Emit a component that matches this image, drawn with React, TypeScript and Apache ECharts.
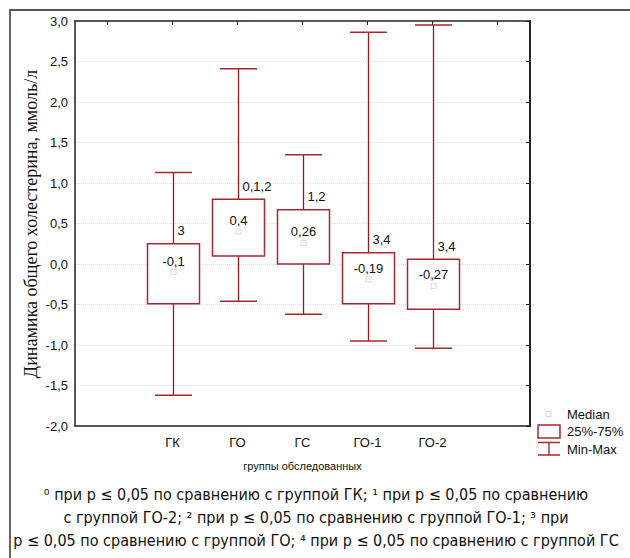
import React, { useEffect, useRef } from "react";
import * as echarts from "echarts";

const categories = ["", "ГК", "ГО", "ГС", "ГО-1", "ГО-2", ""];
const groupIndex = [1, 2, 3, 4, 5];
const minVals = [-1.62, -0.46, -0.62, -0.95, -1.04];
const q1Vals = [-0.49, 0.1, 0.0, -0.49, -0.56];
const medians = [-0.1, 0.4, 0.26, -0.19, -0.27];
const q3Vals = [0.25, 0.8, 0.67, 0.14, 0.06];
const maxVals = [1.13, 2.41, 1.35, 2.86, 2.95];
const sigLabels = ["3", "0,1,2", "1,2", "3,4", "3,4"];

const yTitle = "Динамика общего холестерина, ммоль/л";
const xTitle = "группы обследованных";
const footLines = [
  "⁰ при р ≤ 0,05 по сравнению с группой ГК; ¹ при р ≤ 0,05 по сравнению",
  "с группой ГО-2; ² при р ≤ 0,05 по сравнению с группой ГО-1; ³ при",
  "р ≤ 0,05 по сравнению с группой ГО; ⁴ при р ≤ 0,05 по сравнению с группой ГС",
];
const legendLabels = ["Median", "25%-75%", "Min-Max"];

const BOX = "#a8282d";
const WHISK = "#9a1a1e";
const SANS = "'Liberation Sans', Arial, sans-serif";
const NARROW = "'Liberation Sans Narrow', 'DejaVu Sans Condensed', 'Roboto Condensed', sans-serif";

const fmt = (v: number) => String(v).replace(".", ",");

export default function App() {
  const ref = useRef<HTMLDivElement>(null);
  useEffect(() => {
    if (!ref.current) return;
    const chart = echarts.init(ref.current, undefined, { renderer: "svg" });
    const data = groupIndex.map((g, i) => [g, minVals[i], q1Vals[i], medians[i], q3Vals[i], maxVals[i], i]);

    const option: any = {
      animation: false,
      backgroundColor: "#fff",
      grid: { left: 75, right: 100, top: 21, bottom: 132 },
      xAxis: [
        {
          type: "category",
          data: categories,
          boundaryGap: true,
          axisLine: { onZero: false, lineStyle: { color: "#222", width: 1.5 } },
          axisTick: { alignWithLabel: true, inside: true, length: 4, lineStyle: { color: "#222" } },
          axisLabel: { interval: 0, fontSize: 13, color: "#111", fontFamily: SANS, margin: 10 },
          splitLine: { show: false },
          name: xTitle,
          nameLocation: "middle",
          nameGap: 34,
          nameTextStyle: { fontSize: 11, color: "#111", fontFamily: SANS },
        },
        {
          type: "category",
          data: categories,
          position: "top",
          boundaryGap: true,
          axisLine: { onZero: false, lineStyle: { color: "#222", width: 1.5 } },
          axisTick: { show: true, alignWithLabel: true, inside: true, length: 4, interval: 0, lineStyle: { color: "#222" } },
          axisLabel: { show: false, interval: 0 },
          splitLine: { show: false },
        },
      ],
      yAxis: [
        {
          type: "value",
          min: -2,
          max: 3,
          interval: 0.5,
          axisLine: { show: true, onZero: false, lineStyle: { color: "#222", width: 1.5 } },
          axisTick: { show: false },
          axisLabel: {
            fontSize: 13,
            color: "#111",
            fontFamily: SANS,
            margin: 7,
            formatter: (v: number) => v.toFixed(1).replace(".", ","),
          },
          splitLine: { show: true, lineStyle: { color: "#e2e2e2", type: "dotted", width: 1 } },
        },
        {
          type: "value",
          min: -2,
          max: 3,
          interval: 0.5,
          position: "right",
          axisLine: { show: true, onZero: false, lineStyle: { color: "#222", width: 2 } },
          axisTick: { show: true, inside: true, length: 4, lineStyle: { color: "#222" } },
          axisLabel: { show: false },
          splitLine: { show: false },
        },
      ],
      series: [
        {
          type: "custom",
          xAxisIndex: 0,
          yAxisIndex: 0,
          data,
          renderItem: (params: any, api: any) => {
            const x = api.value(0);
            const idx = api.value(6);
            const pMin = api.coord([x, api.value(1)]);
            const pQ1 = api.coord([x, api.value(2)]);
            const pMed = api.coord([x, api.value(3)]);
            const pQ3 = api.coord([x, api.value(4)]);
            const pMax = api.coord([x, api.value(5)]);
            const band = api.size([1, 0])[0];
            const bw = band * 0.8;
            const cw = band * 0.57;
            const cx = Math.round(pMax[0]) + 0.5;
            return {
              type: "group",
              children: [
                { type: "line", shape: { x1: cx, y1: pMax[1], x2: cx, y2: pQ3[1] }, style: { stroke: WHISK, lineWidth: 1.3 } },
                { type: "line", shape: { x1: cx, y1: pQ1[1], x2: cx, y2: pMin[1] }, style: { stroke: WHISK, lineWidth: 1.3 } },
                { type: "line", shape: { x1: cx - cw / 2, y1: pMax[1], x2: cx + cw / 2, y2: pMax[1] }, style: { stroke: BOX, lineWidth: 1.5 } },
                { type: "line", shape: { x1: cx - cw / 2, y1: pMin[1], x2: cx + cw / 2, y2: pMin[1] }, style: { stroke: BOX, lineWidth: 1.5 } },
                {
                  type: "rect",
                  shape: { x: cx - bw / 2, y: pQ3[1], width: bw, height: pQ1[1] - pQ3[1] },
                  style: { stroke: BOX, lineWidth: 1.5, fill: "#fff" },
                },
                {
                  type: "rect",
                  shape: { x: cx - 2.5, y: pMed[1] - 2.5, width: 5, height: 5 },
                  style: { stroke: "#ecd2d4", lineWidth: 1, fill: "#fff" },
                },
                {
                  type: "text",
                  x: cx,
                  y: pMed[1] - 11,
                  style: { text: fmt(medians[idx]), fontSize: 13, fontFamily: SANS, fill: "#111", align: "center", verticalAlign: "middle" },
                },
                {
                  type: "text",
                  x: cx + 4,
                  y: pQ3[1] - 13,
                  style: { text: sigLabels[idx], fontSize: 13, fontFamily: SANS, fill: "#111", align: "left", verticalAlign: "middle" },
                },
              ],
            };
          },
        },
      ],
      graphic: [
        { type: "rect", silent: true, shape: { x: 10, y: 10, width: 700, height: 700 }, style: { fill: "none", stroke: "#555", lineWidth: 1.8 } },
        {
          type: "text",
          x: 31,
          y: 224,
          rotation: Math.PI / 2,
          style: { text: yTitle, fontSize: 18, fontFamily: "'Liberation Serif', 'Times New Roman', serif", fill: "#111", align: "center", verticalAlign: "middle" },
        },
        ...footLines.map((t, i) => ({
          type: "text",
          x: 316,
          y: 494 + i * 23,
          style: { text: t, fontSize: 16, fontFamily: NARROW, fill: "#111", align: "center", verticalAlign: "middle" },
        })),
        { type: "rect", shape: { x: 546, y: 411.5, width: 5, height: 5 }, style: { fill: "#fff", stroke: "#ecd2d4", lineWidth: 1 } },
        { type: "rect", shape: { x: 538, y: 425, width: 22, height: 13 }, style: { fill: "#fff", stroke: BOX, lineWidth: 1.5 } },
        { type: "line", shape: { x1: 538, y1: 442.5, x2: 560, y2: 442.5 }, style: { stroke: BOX, lineWidth: 1.5 } },
        { type: "line", shape: { x1: 549, y1: 442.5, x2: 549, y2: 455 }, style: { stroke: WHISK, lineWidth: 1.3 } },
        { type: "line", shape: { x1: 538, y1: 455, x2: 560, y2: 455 }, style: { stroke: BOX, lineWidth: 1.5 } },
        ...legendLabels.map((t, i) => ({
          type: "text",
          x: 567,
          y: 414 + i * 17.5,
          style: { text: t, fontSize: 13, fontFamily: SANS, fill: "#111", align: "left", verticalAlign: "middle" },
        })),
      ],
    };
    chart.setOption(option);
    return () => chart.dispose();
  }, []);
  return <div ref={ref} style={{ position: "fixed", left: 0, top: 0, width: 630, height: 558 }} />;
}
